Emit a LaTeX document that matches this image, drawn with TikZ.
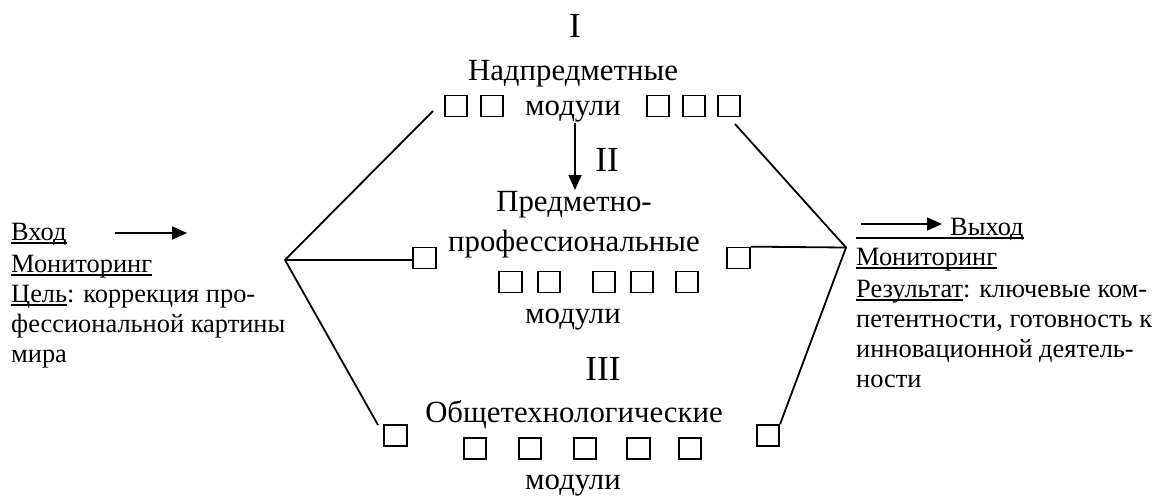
\documentclass[tikz,border=0pt]{standalone}
\usepackage{fontspec}
\setmainfont{Liberation Serif}
\usetikzlibrary{arrows.meta}
\newcommand\ulx[1]{\setbox0\hbox{#1}\rlap{\rule[-3.5pt]{\wd0}{1.5pt}}\box0}
\begin{document}
\begin{tikzpicture}[x=1pt,y=-1pt,
 side/.style={font=\fontsize{26.4}{30}\selectfont, inner sep=0pt, anchor=base west},
 ctr/.style={font=\fontsize{30.8}{34}\selectfont, inner sep=0pt, anchor=base},
 num/.style={font=\fontsize{35.2}{40}\selectfont, inner sep=0pt, anchor=base},
 sq/.style={draw, line width=1.7pt, minimum width=22.5pt, minimum height=21pt, inner sep=0pt},
 conn/.style={line width=1.8pt},
 arr/.style={line width=1.8pt, -{Triangle[length=15pt,width=13pt]}}]
\useasboundingbox (0,0) rectangle (1158,498);
% centre column
\node[num] (n1) at (575,37) {I};
\node[ctr] (t1) at (573,80) {Надпредметные};
\node[ctr] (t2) at (573,115) {модули};
\node[num] (n2) at (607,171) {II};
\node[ctr] (m1) at (574,211) {Предметно-};
\node[ctr] (m2) at (574,251) {профессиональные};
\node[ctr] (m3) at (573,323) {модули};
\node[num] (n3) at (603,380) {III};
\node[ctr] (b1) at (574,422) {Общетехнологические};
\node[ctr] (b2) at (573,489) {модули};
% squares
\node[sq] (sa1) at (456,106) {};
\node[sq] (sa2) at (492,106) {};
\node[sq] (sa3) at (658,106) {};
\node[sq] (sa4) at (694,106) {};
\node[sq] (sa5) at (729,106) {};
\node[sq] (sb1) at (510.5,282) {};
\node[sq] (sb2) at (549,282) {};
\node[sq] (sb3) at (604,282) {};
\node[sq] (sb4) at (642,282) {};
\node[sq] (sb5) at (687,282) {};
\node[sq] (sml) at (424.5,258) {};
\node[sq] (smr) at (738.5,258) {};
\node[sq] (sc1) at (475,448.5) {};
\node[sq] (sc2) at (530,448.5) {};
\node[sq] (sc3) at (585,448.5) {};
\node[sq] (sc4) at (638.5,448.5) {};
\node[sq] (sc5) at (690,448.5) {};
\node[sq] (sbl) at (395.5,435.5) {};
\node[sq] (sbr) at (768,435.5) {};
% connectors
\coordinate (jl) at (285,260);
\coordinate (jr) at (846,247.5);
\coordinate (tl) at (433,111);
\coordinate (bl) at (378,425);
\coordinate (tr) at (735,124);
\draw[conn] (tl) -- (jl) -- (bl);
\draw[conn] (jl) -- (jl -| sml.west);
\draw[conn] (tr) -- (jr) -- (sbr.north east);
\draw[conn] (smr.north east) -- (jr);
\coordinate (ca) at (575,123);
\coordinate (cb) at (575,190);
\draw[arr] (ca) -- (cb);
% left text
\node[side] (l1) at (11,240) {\ulx{Вход}};
\node[side] (l2) at (11,272) {\ulx{Мониторинг}};
\node[side] (l3) at (11,302) {\ulx{Цель}: коррекция про-};
\node[side] (l4) at (11,332) {фессиональной картины};
\node[side] (l5) at (11,362) {мира};
\coordinate (la) at (115,233);
\coordinate (lb) at (187,233);
\draw[arr] (la) -- (lb);
% right text
\node[side] (r1) at (856,235) {\ulx{\hspace{94pt}Выход}};
\node[side] (r2) at (856,265) {\ulx{Мониторинг}};
\node[side] (r3) at (856,297) {\ulx{Результат}: ключевые ком-};
\node[side] (r4) at (856,327) {петентности, готовность к};
\node[side] (r5) at (856,357) {инновационной деятель-};
\node[side] (r6) at (856,387) {ности};
\coordinate (ra) at (861,224);
\coordinate (rb) at (942,224);
\draw[arr] (ra) -- (rb);
\end{tikzpicture}
\end{document}
